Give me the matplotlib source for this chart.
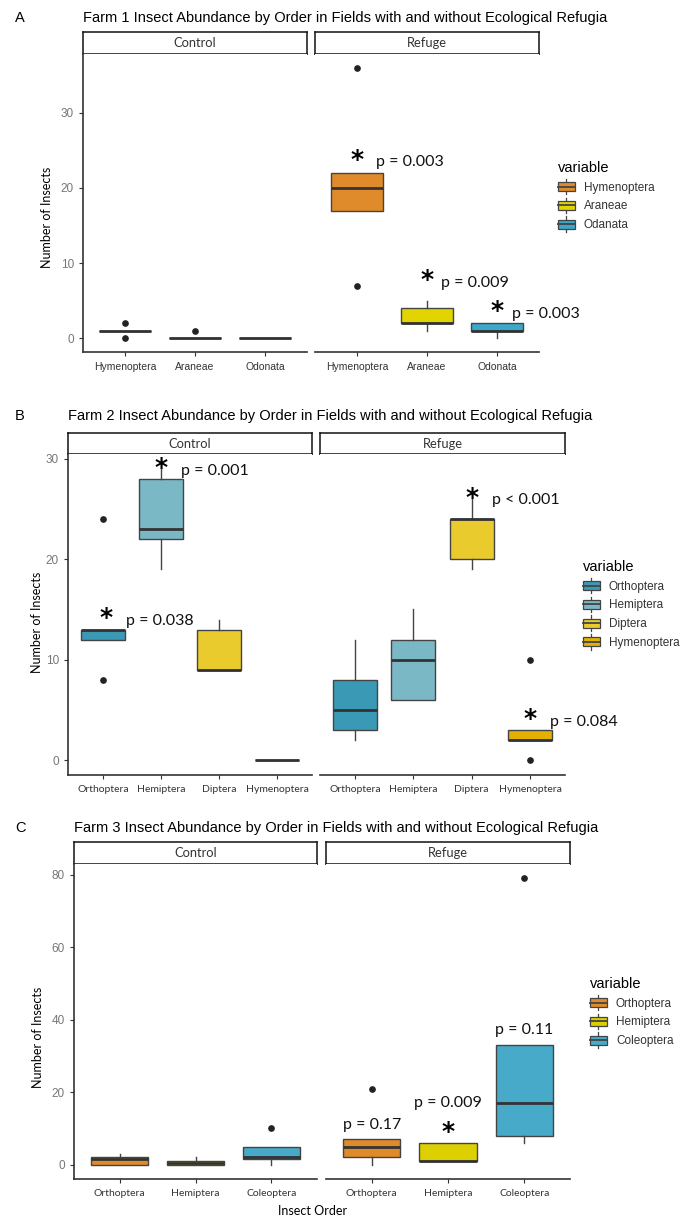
import matplotlib
matplotlib.use("Agg")
import matplotlib.pyplot as plt
from matplotlib.patches import Patch, Rectangle
from matplotlib.lines import Line2D
from matplotlib.legend_handler import HandlerBase
from matplotlib.transforms import offset_copy

# ---- data: five-number summaries [whislo, q1, median, q3, whishi] ----
# Farm 1
f1_orders = ["Hymenoptera", "Araneae", "Odonata"]
f1_legend = ["Hymenoptera", "Araneae", "Odanata"]
f1_colors = ["#E08B2B", "#E1D400", "#3BA8C9"]
f1_control = [[1, 1, 1, 1, 1], [0, 0, 0, 0, 0], [0, 0, 0, 0, 0]]
f1_control_out = [[2, 0], [1], []]
f1_refuge = [[17, 17, 20, 22, 22], [1, 2, 2, 4, 5], [0, 1, 1, 2, 2]]
f1_refuge_out = [[36, 7], [], []]
f1_pvals = ["p = 0.003", "p = 0.009", "p = 0.003"]

# Farm 2
f2_orders = ["Orthoptera", "Hemiptera", "Diptera", "Hymenoptera"]
f2_colors = ["#3A9AB6", "#7BB8C6", "#EACB2E", "#E2B103"]
f2_control = [[12, 12, 13, 13, 13], [19, 22, 23, 28, 29], [9, 9, 9, 13, 14], [0, 0, 0, 0, 0]]
f2_control_out = [[24, 8], [], [], []]
f2_refuge = [[2, 3, 5, 8, 12], [6, 6, 10, 12, 15], [19, 20, 24, 24, 26], [2, 2, 2, 3, 3]]
f2_refuge_out = [[], [], [], [10, 0]]
f2_pvals = ["p = 0.038", "p = 0.001", "p < 0.001", "p = 0.084"]

# Farm 3
f3_orders = ["Orthoptera", "Hemiptera", "Coleoptera"]
f3_colors = ["#E08B2B", "#DCD000", "#46AAC8"]
f3_control = [[0, 0, 1.5, 2, 3], [0, 0, 0.5, 1, 2], [0, 1.5, 2, 5, 5]]
f3_control_out = [[], [], [10]]
f3_refuge = [[0, 2, 5, 7, 7], [1, 1, 1, 6, 6], [6, 8, 17, 33, 33]]
f3_refuge_out = [[21], [], [79]]
f3_pvals = ["p = 0.17", "p = 0.009", "p = 0.11"]

W, H = 682, 1217
SANS = ["Liberation Sans", "DejaVu Sans"]
SOFT = ["Lato", "DejaVu Sans"]
plt.rcParams["font.family"] = SANS

fig = plt.figure(figsize=(W / 100, H / 100), dpi=100)


def rect(x0, y0, x1, y1):
    return [x0 / W, 1 - y1 / H, (x1 - x0) / W, (y1 - y0) / H]


class BoxKey(HandlerBase):
    def create_artists(self, legend, orig, xd, yd, width, height, fontsize, trans):
        fc = orig.get_facecolor()
        x0, y0 = -xd, -yd
        cx = x0 + width / 2
        box = Rectangle((x0, y0 + height * 0.15), width, height * 0.7,
                        facecolor=fc, edgecolor="#444444", lw=0.9, transform=trans)
        wl = Line2D([cx, cx], [y0 - height * 0.1, y0 + height * 1.1], color="#444444", lw=0.9, transform=trans)
        md = Line2D([x0, x0 + width], [y0 + height / 2] * 2, color="#444444", lw=1.3, transform=trans)
        return [wl, box, md]


def draw_boxes(ax, summ, outs, colors):
    stats = []
    for s, o in zip(summ, outs):
        stats.append(dict(whislo=s[0], q1=s[1], med=s[2], q3=s[3], whishi=s[4], fliers=o))
    bp = ax.bxp(stats, positions=range(1, len(summ) + 1), widths=0.75, patch_artist=True,
                showcaps=False, manage_ticks=False,
                boxprops=dict(edgecolor="#444444", lw=1.0),
                medianprops=dict(color="#333333", lw=2.0),
                whiskerprops=dict(color="#444444", lw=1.0),
                flierprops=dict(marker="o", markersize=3.8, markerfacecolor="#222222",
                                markeredgecolor="#222222"))
    for patch, c in zip(bp["boxes"], colors):
        patch.set_facecolor(c)


def style_axis(ax, orders, ylim, yticks, left, xfont):
    ax.set_xlim(0.4, len(orders) + 0.6)
    ax.set_ylim(*ylim)
    ax.set_xticks(range(1, len(orders) + 1))
    ax.set_xticklabels(orders, fontsize=7.5, color="#333333", family=xfont)
    for sp in ["top", "right"]:
        ax.spines[sp].set_visible(False)
    ax.spines["bottom"].set_color("#333333")
    ax.spines["bottom"].set_linewidth(1.2)
    ax.tick_params(axis="x", length=3, color="#333333", pad=4)
    if left:
        ax.spines["left"].set_color("#333333")
        ax.spines["left"].set_linewidth(1.2)
        ax.set_yticks(yticks)
        ax.tick_params(axis="y", length=3, color="#333333", labelsize=8.5, labelcolor="#777777")
    else:
        ax.spines["left"].set_visible(False)
        ax.set_yticks([])


def strip(x0, y0, x1, y1, label):
    s = fig.add_axes(rect(x0, y0, x1, y1))
    s.set_xticks([])
    s.set_yticks([])
    for sp in s.spines.values():
        sp.set_color("#111111")
        sp.set_linewidth(1.1)
    s.text(0.5, 0.5, label, ha="center", va="center", fontsize=9.3, color="#333333",
           family=SOFT, transform=s.transAxes)


def panel(letter, title, ty, sy, py, cx, rx, orders, colors, ctrl, ctrl_out, ref, ref_out,
          ylim, yticks, ylab_xy, leg_xy, leg_labels, xfont):
    fig.text(15 / W, 1 - ty / H, letter, fontsize=10.5, va="center", ha="left")
    fig.text(cx[0] / W, 1 - ty / H, title, fontsize=10.5, va="center", ha="left")
    strip(cx[0], sy, cx[1], py[0], "Control")
    strip(rx[0], sy, rx[1], py[0], "Refuge")
    a1 = fig.add_axes(rect(cx[0], py[0], cx[1], py[1]))
    a2 = fig.add_axes(rect(rx[0], py[0], rx[1], py[1]))
    draw_boxes(a1, ctrl, ctrl_out, colors)
    draw_boxes(a2, ref, ref_out, colors)
    style_axis(a1, orders, ylim, yticks, True, xfont)
    style_axis(a2, orders, ylim, yticks, False, xfont)
    fig.text(ylab_xy[0] / W, 1 - ylab_xy[1] / H, "Number of Insects", rotation=90,
             ha="center", va="center", fontsize=9, family=SOFT)
    handles = [Patch(facecolor=c) for c in colors]
    lg = fig.legend(handles, leg_labels, title="variable", loc="upper left",
                    bbox_to_anchor=(leg_xy[0] / W, 1 - leg_xy[1] / H), frameon=False,
                    alignment="left", fontsize=8.5, title_fontsize=10.5,
                    handler_map={Patch: BoxKey()}, handlelength=1.4, handleheight=1.3,
                    labelspacing=0.45, handletextpad=0.8, borderpad=0, borderaxespad=0)
    for t in lg.get_texts():
        t.set_color("#333333")
    return a1, a2


def star(ax, x, y):
    tr = offset_copy(ax.transData, fig=fig, x=0, y=-5, units="points")
    ax.text(x, y, "*", fontsize=18, fontweight="bold", ha="center", va="center",
            family=["DejaVu Sans"], transform=tr, clip_on=False)


def ptext(ax, x, y, s, ha="left"):
    ax.text(x, y, s, fontsize=11.5, ha=ha, va="center", family=SOFT, color="#111111", clip_on=False)


# ---- Panel A ----
title = "Farm {} Insect Abundance by Order in Fields with and without Ecological Refugia"
a1, a2 = panel("A", title.format(1), 18, 32, (54, 352), (83, 307), (315, 539),
               f1_orders, f1_colors, f1_control, f1_control_out, f1_refuge, f1_refuge_out,
               (-1.8, 37.8), [0, 10, 20, 30], (47, 217), (558, 161), f1_legend, SANS)
for i, (sy, px, py) in enumerate([(24.7, 1.27, 23.4), (8.7, 2.2, 7.4), (4.55, 3.21, 3.3)]):
    star(a2, i + 1, sy)
    ptext(a2, px, py, f1_pvals[i])

# ---- Panel B ----
b1, b2 = panel("B", title.format(2), 416, 433, (454, 775), (68, 312), (320, 565),
               f2_orders, f2_colors, f2_control, f2_control_out, f2_refuge, f2_refuge_out,
               (-1.45, 30.45), [0, 10, 20, 30], (37, 622), (583, 560), f2_orders, SOFT)
star(b1, 1.05, 14.8)
ptext(b1, 1.39, 13.9, f2_pvals[0])
star(b1, 2, 29.7)
ptext(b1, 2.34, 28.8, f2_pvals[1])
star(b2, 3, 26.8)
ptext(b2, 3.35, 25.9, f2_pvals[2])
star(b2, 4, 4.8)
ptext(b2, 4.34, 3.8, f2_pvals[3])

# ---- Panel C ----
c1, c2 = panel("C", title.format(3), 828, 842, (864, 1179), (74, 317), (326, 570),
               f3_orders, f3_colors, f3_control, f3_control_out, f3_refuge, f3_refuge_out,
               (-3.95, 82.95), [0, 20, 40, 60, 80], (38, 1037), (590, 977), f3_orders, SOFT)
ptext(c2, 1, 10.9, f3_pvals[0], ha="center")
ptext(c2, 2, 16.9, f3_pvals[1], ha="center")
star(c2, 2, 10.9)
ptext(c2, 3, 37.2, f3_pvals[2], ha="center")
fig.text(313 / W, 1 - 1211 / H, "Insect Order", ha="center", va="center", fontsize=9, family=SOFT)

fig.savefig("out.png", dpi=100, facecolor="white")
